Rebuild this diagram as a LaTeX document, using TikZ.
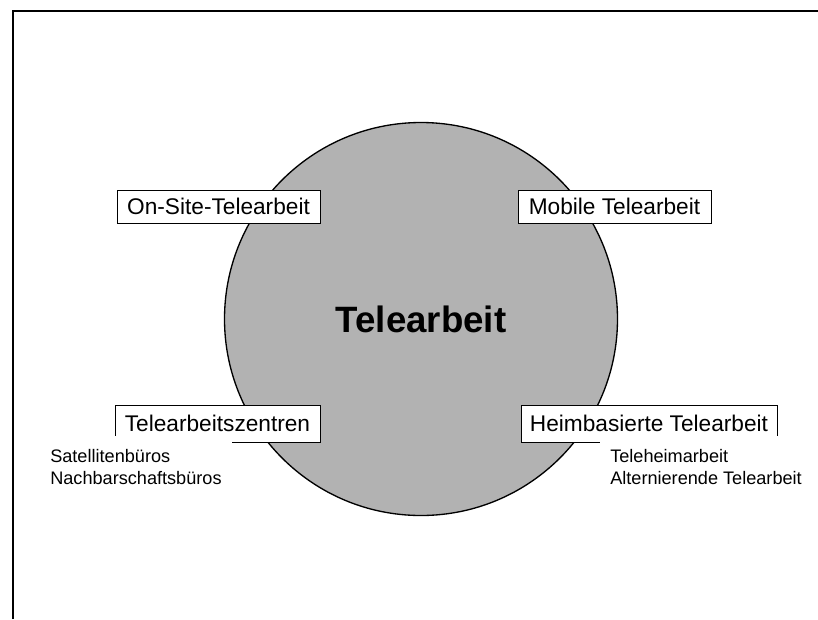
\documentclass[tikz,border=0pt]{standalone}
\usepackage{fontspec}
\setmainfont{Liberation Sans}
\usepackage{tikz}
\newcommand{\boxfont}{\fontsize{17pt}{20pt}\selectfont}
\newcommand{\subfont}{\fontsize{13.6pt}{16.5pt}\selectfont}
\newcommand{\titlefont}{\bfseries\fontsize{27.5pt}{33pt}\selectfont}

\begin{document}
\begin{tikzpicture}[x=0.75pt,y=-0.75pt,
	form/.style={draw,line width=0.75pt,fill=white,inner sep=0pt,font=\boxfont,minimum height=24.75pt},
	sub/.style={fill=white,inner xsep=7.5pt,inner ysep=10pt,align=left,font=\subfont,anchor=north west}]
	\useasboundingbox (0,0) rectangle (818,619);
	% frame
	\draw[line width=1.5pt] (13,619) -- (13,11) -- (818,11);
	\node[circle,draw,line width=1pt,fill=black!30,minimum size=294.75pt,inner sep=0pt,font=\titlefont] (tele) at (421,319) {Telearbeit};
	% the four forms
	\node[form,minimum width=152.25pt] (onsite) at (218.5,206.5) {On-Site-Telearbeit};
	\node[form,minimum width=144.75pt] (mobil) at (614.5,206.5) {Mobile Telearbeit};
	\node[form,minimum width=153.75pt,minimum height=27.75pt] (zentren) at (217.5,423.5) {Telearbeitszentren};
	\node[form,minimum width=192pt,minimum height=27.75pt] (heim) at (649,423.5) {Heimbasierte Telearbeit};
	% sub forms
	\node[sub] (zentrensub) at (40,436) {Satellitenbüros\\Nachbarschaftsbüros};
	\node[sub] (heimsub) at (600,436) {Teleheimarbeit\\Alternierende Telearbeit};
\end{tikzpicture}
\end{document}
